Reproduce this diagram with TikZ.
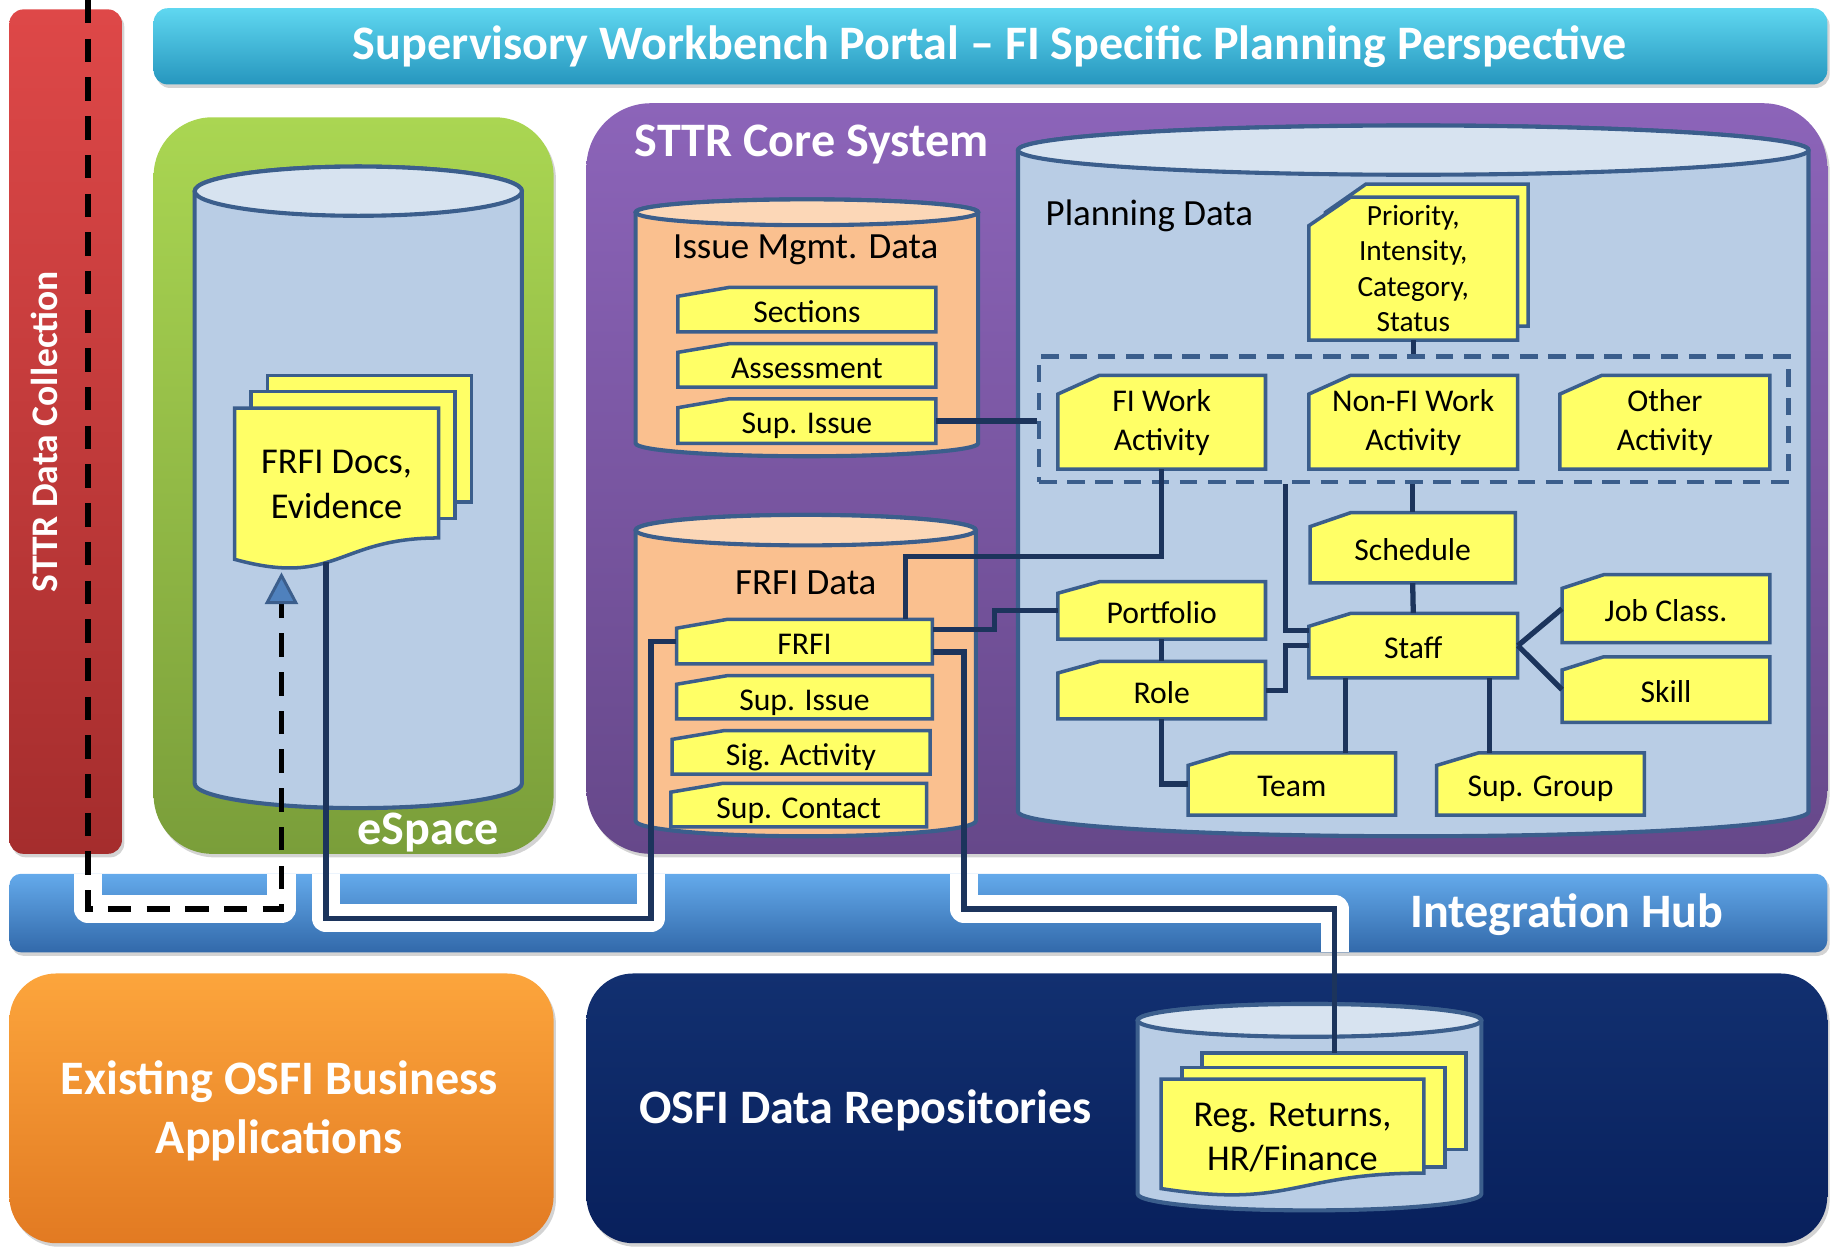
\documentclass[tikz,border=0pt]{standalone}
\usepackage{fontspec}
\setmainfont{Carlito}
\usetikzlibrary{arrows.meta,fit,shadows,calc}

\definecolor{ndstroke}{RGB}{59,94,140}
\definecolor{connc}{RGB}{28,52,92}
\definecolor{ylw}{RGB}{255,255,102}
\definecolor{cylbody}{RGB}{185,205,229}
\definecolor{cyltop}{RGB}{215,227,240}
\definecolor{peach}{RGB}{250,192,143}
\definecolor{peachtop}{RGB}{252,215,183}
\definecolor{tipblue}{RGB}{79,129,189}
\definecolor{redT}{RGB}{222,72,72}
\definecolor{redB}{RGB}{165,45,45}
\definecolor{cyanT}{RGB}{95,215,240}
\definecolor{cyanB}{RGB}{38,150,190}
\definecolor{grnT}{RGB}{170,214,82}
\definecolor{grnB}{RGB}{122,158,58}
\definecolor{purT}{RGB}{140,100,185}
\definecolor{purB}{RGB}{102,72,138}
\definecolor{hubT}{RGB}{100,170,235}
\definecolor{hubB}{RGB}{50,105,170}
\definecolor{orT}{RGB}{252,165,60}
\definecolor{orB}{RGB}{226,122,34}
\definecolor{navT}{RGB}{18,48,112}
\definecolor{navB}{RGB}{8,32,92}

\newcommand\fBig{\fontsize{41}{50}\selectfont\bfseries}
\newcommand\fTitle{\fontsize{41}{48}\selectfont\bfseries}
\newcommand\fSide{\fontsize{32}{40}\selectfont\bfseries}
\newcommand\fCyl{\fontsize{31.5}{37}\selectfont}
\newcommand\fNode{\fontsize{27}{33}\selectfont}
\newcommand\fDoc{\fontsize{31}{38}\selectfont}
\newcommand\fPrio{\fontsize{25}{30}\selectfont}

\tikzset{
  cardsty/.style={fill=ylw, draw=ndstroke, line width=3pt},
  cardtext/.style={inner sep=0pt, font=\fNode, text height=24pt, text depth=2pt},
  cardmulti/.style={text height=, text depth=, align=center},
  conn/.style={draw=connc, line width=4.5pt},
  dashconn/.style={draw=black, line width=4.5pt, dash pattern=on 20pt off 13pt},
  casing/.style={draw=white, line width=24pt, line join=round},
  bigbox/.style={drop shadow={opacity=0.35, shadow xshift=2pt, shadow yshift=-3pt}},
  biglabel/.style={text=white, font=\fBig, inner sep=0pt, align=center},
  cyllabel/.style={font=\fCyl, inner sep=0pt},
  doctext/.style={font=\fDoc, align=center, inner sep=0pt},
  actboxsty/.style={draw=ndstroke, line width=4pt, dash pattern=on 15pt off 9pt, inner sep=0pt}
}

\newcommand\card[7]{%
  \pgfmathsetmacro\cutW{0.2*(#4-#2)}%
  \pgfmathsetmacro\cutH{0.2*(#5-#3)}%
  \filldraw[cardsty] (#2,#5) -- (#2,{#3+\cutH}) -- ({#2+\cutW},#3) -- (#4,#3) -- (#4,#5) -- cycle;
  \node[cardtext, #6, minimum width={(#4-#2)*1pt}, minimum height={(#5-#3)*1pt}] (#1) at ({(#2+#4)/2},{(#3+#5)/2}) {#7};
}
\newcommand\cardback[4]{%
  \pgfmathsetmacro\cutW{0.2*(#3-#1)}%
  \pgfmathsetmacro\cutH{0.2*(#4-#2)}%
  \filldraw[cardsty] (#1,#4) -- (#1,{#2+\cutH}) -- ({#1+\cutW},#2) -- (#3,#2) -- (#3,#4) -- cycle;
}
\newcommand\cyl[7]{%
  \pgfmathsetmacro\cylRx{(#2-#1)/2}%
  \filldraw[fill=#6, draw=ndstroke, line width=3.5pt] (#1,#3) -- (#1,#4)
    arc[start angle=180, end angle=360, x radius={\cylRx*1pt}, y radius={#5*1pt}]
    -- (#2,#3)
    arc[start angle=0, end angle=180, x radius={\cylRx*1pt}, y radius={#5*1pt}] -- cycle;
  \filldraw[fill=#7, draw=ndstroke, line width=3.5pt] ({(#1+#2)/2},#3) ellipse[x radius={\cylRx*1pt}, y radius={#5*1pt}];
}
\newcommand\docshape[4]{%
  \filldraw[cardsty] (#1,#2) -- (#3,#2) -- (#3,{#2+0.802*#4})
    .. controls ({(#1+#3)/2},{#2+0.802*#4}) and ({(#1+#3)/2},{#2+1.108*#4}) .. (#1,{#2+0.934*#4}) -- cycle;
}

\begin{document}
\begin{tikzpicture}[x=1pt,y=-1pt]
\useasboundingbox (0,0) rectangle (1568,1063);

% ---- big containers
\path[bigbox, top color=redT, bottom color=redB, rounded corners=12pt] (8,8) rectangle (104,728);
\path[bigbox, top color=cyanT, bottom color=cyanB, rounded corners=12pt] (131,7) rectangle (1558,72);
\path[bigbox, top color=grnT, bottom color=grnB, rounded corners=50pt] (131,100) rectangle (472,728);
\path[bigbox, top color=purT, bottom color=purB, rounded corners=55pt] (500,88) rectangle (1558,728);
\path[bigbox, top color=hubT, bottom color=hubB, rounded corners=10pt] (8,745) rectangle (1558,812);
\path[bigbox, top color=orT, bottom color=orB, rounded corners=40pt] (8,830) rectangle (472,1060);
\path[bigbox, top color=navT, bottom color=navB, rounded corners=40pt] (500,830) rectangle (1558,1060);

% ---- white casings of the connectors crossing the hub
\draw[casing] (75,745) -- (75,775) -- (240,775) -- (240,745);
\draw[casing] (278,745) -- (278,783) -- (555,783) -- (555,745);
\draw[casing] (822,745) -- (822,775) -- (1138,775) -- (1138,812);

% ---- container labels
\node[text=white, font=\fTitle, inner sep=0pt] (title) at (844,40) {Supervisory Workbench Portal -- FI Specific Planning Perspective};
\node[text=white, font=\fSide, inner sep=0pt, rotate=90] (sttrdc) at (38,368) {STTR Data Collection};
\node[biglabel] (espace) at (365,710) {eSpace};
\node[biglabel, anchor=west] (core) at (541,123) {STTR Core System};
\node[biglabel] (hub) at (1336,780) {Integration Hub};
\node[biglabel] (apps) at (238,947) {Existing OSFI Business\\Applications};
\node[biglabel] (repos) at (738,947) {OSFI Data Repositories};

% ---- cylinders
\cyl{166}{445}{163}{668}{21}{cylbody}{cyltop}
\cyl{542}{834}{181}{378}{11}{peach}{peachtop}
\cyl{542}{832}{452}{700}{13}{peach}{peachtop}
\cyl{868}{1542}{128}{692}{21}{cylbody}{cyltop}
\cyl{970}{1263}{870}{1018}{14}{cylbody}{cyltop}

\node[cyllabel] (planlbl) at (980,184) {Planning Data};
\node[cyllabel] (issuelbl) at (687,213) {Issue Mgmt. Data};
\node[cyllabel] (frfilbl) at (687,497) {FRFI Data};

% ---- document stacks
\filldraw[cardsty] (228,320) rectangle (402,428);
\filldraw[cardsty] (214,334) rectangle (388,442);
\docshape{200}{348}{374}{138}
\node[doctext] (frfidocs) at (287,413) {FRFI Docs,\\Evidence};

\filldraw[cardsty] (1025,898) rectangle (1250,980);
\filldraw[cardsty] (1008,910) rectangle (1232,995);
\docshape{990}{920}{1214}{100}
\node[doctext] (regdocs) at (1102,970) {Reg. Returns,\\HR/Finance};

% ---- Issue Mgmt. cards
\card{sections}{578}{245}{798}{283}{}{Sections}
\card{assess}{578}{293}{798}{330}{}{Assessment}
\card{supissA}{578}{340}{798}{378}{}{Sup. Issue}

% ---- FRFI Data cards
\card{frfi}{577}{528}{795}{566}{}{FRFI}
\card{supissB}{577}{576}{795}{613}{}{Sup. Issue}
\card{sigact}{573}{623}{793}{660}{}{Sig. Activity}
\card{supcont}{572}{668}{790}{705}{}{Sup. Contact}

% ---- Planning cards
\cardback{1130}{157}{1303}{278}
\card{prio}{1116}{168}{1294}{290}{cardmulti, font=\fPrio}{Priority,\\Intensity,\\Category,\\Status}
\node[actboxsty, fit={(886,304) (1525,411)}] (actbox) {};
\card{fiwork}{902}{320}{1079}{400}{cardmulti}{FI Work\\Activity}
\card{nonfi}{1116}{320}{1294}{400}{cardmulti}{Non-FI Work\\Activity}
\card{other}{1330}{320}{1509}{400}{cardmulti}{Other\\Activity}
\card{schedule}{1117}{437}{1292}{497}{}{Schedule}
\card{portfolio}{902}{496}{1079}{545}{}{Portfolio}
\card{staff}{1116}{523}{1294}{578}{}{Staff}
\card{jobclass}{1332}{490}{1509}{548}{}{Job Class.}
\card{role}{902}{564}{1079}{613}{}{Role}
\card{skill}{1332}{560}{1509}{616}{}{Skill}
\card{team}{1013}{642}{1190}{695}{}{Team}
\card{supgroup}{1225}{642}{1402}{695}{}{Sup. Group}

% ---- connector end points
\coordinate (dtop) at (75,0);
\coordinate (docarrow) at (240,488);
\coordinate (docsbot) at (278,479);
\coordinate (regtop) at (1138,898);

% ---- connectors
\draw[conn] (supissA.east) -- (supissA.east -| actbox.west);
\draw[conn] (prio.south) -- (prio.south |- actbox.north);
\draw[conn] (fiwork.south) -- ++(0,74) -| ([xshift=86pt]frfi.north);
\draw[conn] ([xshift=-109.5pt]actbox.south) |- ([yshift=13pt]staff.west);
\draw[conn] (schedule.north) -- (schedule.north |- actbox.south);
\draw[conn] (schedule.south) -- (staff.north);
\draw[conn] ([yshift=10pt]frfi.east) -- ++(53,0) |- (portfolio.west);
\draw[conn] (portfolio.south) -- (role.north);
\draw[conn] (role.east) -- ++(17,0) |- (staff.west);
\draw[conn] (role.south) |- (team.west);
\draw[conn] ([xshift=-58pt]staff.south) coordinate (sA) -- (sA |- team.north);
\draw[conn] ([xshift=65pt]staff.south) coordinate (sB) -- (sB |- supgroup.north);
\draw[conn] (staff.east) -- (jobclass.west);
\draw[conn] (staff.east) -- (skill.west);
\draw[conn] (frfi.west) -| (555,783) -| (docsbot);
\draw[conn] ([yshift=-9pt]frfi.east) -| (822,775) -| (regtop);
\draw[dashconn, -{Triangle[width=28pt,length=27pt,fill=tipblue,color=ndstroke,line width=2.5pt]}] (dtop) -- (75,775) -| (docarrow);
\end{tikzpicture}
\end{document}
